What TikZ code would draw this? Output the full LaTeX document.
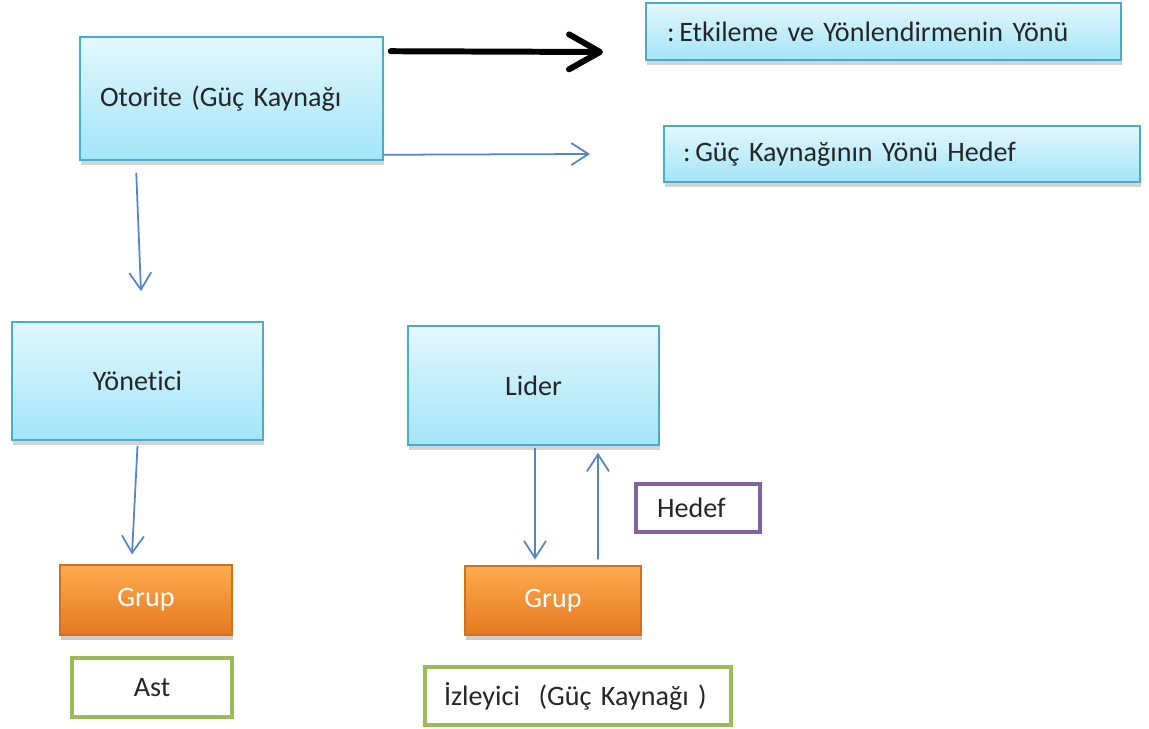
\documentclass[tikz,border=0pt]{standalone}
\usepackage{fontspec}
\setmainfont{Carlito}[Ligatures=NoCommon]
\usetikzlibrary{arrows.meta,shadows,calc,positioning}

\definecolor{boxline}{HTML}{4BACC6}
\definecolor{boxtop}{HTML}{E2F7FD}
\definecolor{boxbot}{HTML}{A3E5F8}
\definecolor{orangetop}{HTML}{FFAA4F}
\definecolor{orangebot}{HTML}{E4791F}
\definecolor{orangeline}{HTML}{D0711C}
\definecolor{linkblue}{HTML}{5585C6}
\definecolor{greenline}{HTML}{9BBB59}
\definecolor{purpleline}{HTML}{8064A2}
\definecolor{txt}{HTML}{262626}

\begin{document}
\begin{tikzpicture}[x=0.02cm,y=-0.02cm,font=\fontsize{16}{19}\selectfont,text=txt,
    bluebox/.style={draw=boxline,line width=0.9pt,top color=boxtop,bottom color=boxbot,
        drop shadow={shadow xshift=0.6pt,shadow yshift=-2.6pt,opacity=0.35}},
    orangebox/.style={draw=orangeline,line width=0.6pt,top color=orangetop,bottom color=orangebot,
        text=white,drop shadow={shadow xshift=0.6pt,shadow yshift=-2.6pt,opacity=0.4}},
    greenbox/.style={draw=greenline,line width=2pt,fill=white},
    purplebox/.style={draw=purpleline,line width=2pt,fill=white},
    link/.style={draw=linkblue,line width=1pt,-{Straight Barb[length=0.34cm,width=0.44cm]}},
    boldlink/.style={draw=black,line width=3.4pt,line cap=round,
        -{Straight Barb[length=0.62cm,width=0.7cm,round]}}]

    \useasboundingbox (0,0) rectangle (1149,729);

    % top part
    \node[bluebox,minimum height=2.46cm,text width=5.26cm,inner xsep=0.4cm,align=left] (otorite) at (231.5,98.5) {Otorite (Güç Kaynağı};
    \node[bluebox,minimum height=1.14cm,text width=8.66cm,inner xsep=0.42cm,align=left] (etki) at (883.5,31.5) {:\,Etkileme ve Yönlendirmenin Yönü};
    \node[bluebox,minimum height=1.12cm,text width=8.76cm,inner xsep=0.38cm,align=left] (kaynak) at (902,154) {:\,Güç Kaynağının Yönü Hedef};

    % middle part
    \node[bluebox,minimum width=5.02cm,minimum height=2.36cm] (yonetici) at (137.5,381) {Yönetici};
    \node[bluebox,minimum width=5.02cm,minimum height=2.38cm] (lider) at (533.5,385.5) {Lider};

    % bottom part
    \node[orangebox,minimum width=3.44cm,minimum height=1.4cm] (grupa) at (146,600) {Grup};
    \node[orangebox,minimum width=3.52cm,minimum height=1.38cm] (grupb) at (553,600.5) {Grup};
    \node[purplebox,minimum height=0.96cm,text width=1.64cm,inner xsep=0.42cm,align=left] (hedef) at (698,508) {Hedef};
    \node[greenbox,minimum width=3.2cm,minimum height=1.18cm] (ast) at (152,687.5) {Ast};
    \node[greenbox,minimum height=1.16cm,text width=5.36cm,inner xsep=0.38cm,align=left] (izleyici) at (578,696) {İzleyici\ \ (Güç Kaynağı\ )};

    % legend arrows
    \coordinate (boldend) at (603,52);
    \coordinate (thinend) at (590,154);
    \draw[boldlink] ($(otorite.north east)+(7,15)$) -- (boldend);
    \draw[link] ($(otorite.south east)+(0,-6)$) -- (thinend);

    % connectors
    \draw[link] ($(otorite.south west)+(57,12)$) -- ($(yonetici.north)+(3.5,-30)$);
    \draw[link] ($(yonetici.south)+(0,5)$) -- ($(grupa.north)+(-14,-10)$);
    \draw[link] ($(lider.south)+(1.5,2)$) -- ($(grupb.north)+(-18,-6)$);
    \draw[link] ($(grupb.north)+(45,-6)$) -- ($(lider.south)+(64.5,7)$);

\end{tikzpicture}
\end{document}
